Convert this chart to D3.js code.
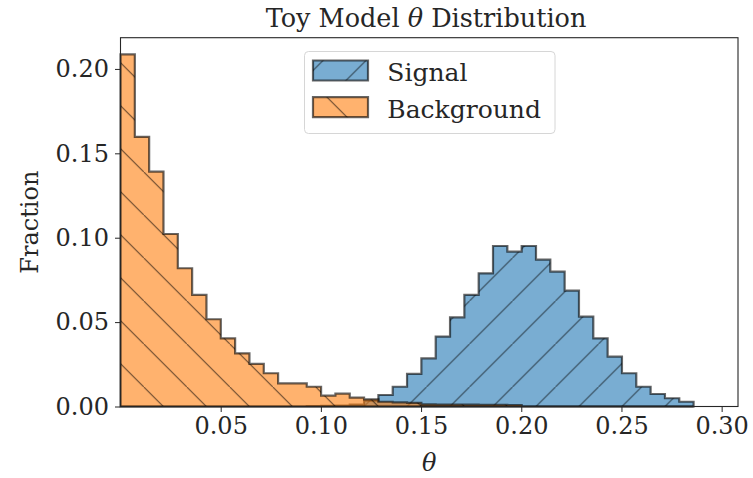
<!DOCTYPE html>
<html>
<head>
<meta charset="utf-8">
<script src="https://cdn.jsdelivr.net/npm/d3@7"></script>
<style>
  body { margin: 0; background: #fff; }
  text { font-family: "DejaVu Serif", serif; fill: #262626; }
</style>
</head>
<body>
<div id="chart"></div>
<script>
var width = 753;
var height = 478;

// histogram: 40 shared bins over theta range
var thetaMin = 0.0;
var thetaMax = 0.286;
var binCount = 40;

var signalFraction = [
  0, 0, 0, 0, 0, 0, 0, 0, 0, 0,
  0, 0, 0, 0.0002, 0.0004, 0.0006, 0.0012, 0.0035, 0.0068, 0.0117,
  0.0193, 0.0285, 0.0414, 0.0528, 0.0661, 0.0789, 0.0951, 0.0917, 0.0951, 0.0870,
  0.0799, 0.0686, 0.0532, 0.0404, 0.0295, 0.0197, 0.0117, 0.0074, 0.0049, 0.0028
];
var backgroundFraction = [
  0.2086, 0.1598, 0.1391, 0.1022, 0.0819, 0.0661, 0.0517, 0.0404, 0.0315, 0.0252,
  0.0197, 0.0137, 0.0137, 0.0117, 0.0064, 0.0076, 0.0053, 0.0042, 0.0028, 0.0024,
  0.0022, 0.0013, 0.0012, 0.0012, 0.0011, 0.0010, 0.0010, 0.0009, 0, 0,
  0, 0, 0, 0, 0, 0, 0, 0, 0, 0
];

var seriesNames = ['Signal', 'Background'];
var xTicks = [0.05, 0.10, 0.15, 0.20, 0.25, 0.30];
var yTicks = [0.00, 0.05, 0.10, 0.15, 0.20];

var binWidth = (thetaMax - thetaMin) / binCount;
var edges = d3.range(binCount + 1).map(function(i) { return thetaMin + i * binWidth; });

var margin = { left: 120.5, right: 15, top: 37.7, bottom: 71.5 };

var x = d3.scaleLinear()
  .domain([0, 0.30816])
  .range([margin.left, width - margin.right]);

var y = d3.scaleLinear()
  .domain([0, 0.2185])
  .range([height - margin.bottom, margin.top]);

var svg = d3.select('#chart')
  .append('svg')
  .attr('width', width)
  .attr('height', height);

var defs = svg.append('defs');

// hatch patterns, '/' for signal and '\' for background
var hatch = 43;
var pSig = defs.append('pattern')
  .attr('id', 'hatchSignal')
  .attr('patternUnits', 'userSpaceOnUse')
  .attr('width', hatch).attr('height', hatch)
  .attr('x', 39.5).attr('y', 0);
pSig.append('path')
  .attr('d', 'M-5,' + (hatch + 5) + 'L' + (hatch + 5) + ',-5')
  .attr('stroke', '#000').attr('stroke-opacity', 0.6).attr('stroke-width', 1.1);

var pBkg = defs.append('pattern')
  .attr('id', 'hatchBackground')
  .attr('patternUnits', 'userSpaceOnUse')
  .attr('width', hatch).attr('height', hatch)
  .attr('x', 14.8).attr('y', 0);
pBkg.append('path')
  .attr('d', 'M-5,-5L' + (hatch + 5) + ',' + (hatch + 5))
  .attr('stroke', '#000').attr('stroke-opacity', 0.6).attr('stroke-width', 1.1);

var colors = ['#1f77b4', '#ff7f0e'];
var hatches = ['url(#hatchSignal)', 'url(#hatchBackground)'];

function stepPoints(values) {
  var pts = [[edges[0], 0]];
  values.forEach(function(v, i) {
    pts.push([edges[i], v]);
    pts.push([edges[i + 1], v]);
  });
  pts.push([edges[edges.length - 1], 0]);
  return pts;
}

var line = d3.line()
  .x(function(d) { return x(d[0]); })
  .y(function(d) { return y(d[1]); });

var plot = svg.append('g');

[signalFraction, backgroundFraction].forEach(function(values, k) {
  var d = line(stepPoints(values)) + 'Z';
  plot.append('path')
    .attr('d', d)
    .attr('fill', colors[k])
    .attr('fill-opacity', 0.6);
  plot.append('path')
    .attr('d', d)
    .attr('fill', hatches[k]);
  plot.append('path')
    .attr('d', d)
    .attr('fill', 'none')
    .attr('stroke', '#000')
    .attr('stroke-opacity', 0.6)
    .attr('stroke-width', 2.2)
    .attr('stroke-linejoin', 'miter');
});

// axes
var xAxis = svg.append('g')
  .attr('transform', 'translate(0,' + (height - margin.bottom) + ')')
  .call(d3.axisBottom(x).tickValues(xTicks).tickFormat(d3.format('.2f')).tickSizeOuter(0).tickSize(5.5).tickPadding(5));
var yAxis = svg.append('g')
  .attr('transform', 'translate(' + margin.left + ',0)')
  .call(d3.axisLeft(y).tickValues(yTicks).tickFormat(d3.format('.2f')).tickSizeOuter(0).tickSize(5.5).tickPadding(6));

[xAxis, yAxis].forEach(function(a) {
  a.select('.domain').remove();
  a.selectAll('line').attr('stroke', '#262626').attr('stroke-width', 1);
  a.selectAll('text')
    .attr('font-family', '"DejaVu Serif", serif')
    .attr('font-size', 24)
    .attr('fill', '#262626');
});

// frame
svg.append('rect')
  .attr('x', margin.left)
  .attr('y', margin.top)
  .attr('width', width - margin.right - margin.left)
  .attr('height', height - margin.bottom - margin.top)
  .attr('fill', 'none')
  .attr('stroke', '#262626')
  .attr('stroke-width', 1.1);

// title and labels
var title = svg.append('text')
  .attr('x', 426)
  .attr('y', 26.7)
  .attr('text-anchor', 'middle')
  .attr('font-size', 25.5);
title.append('tspan').text('Toy Model ');
title.append('tspan').attr('font-style', 'italic').text('θ');
title.append('tspan').text(' Distribution');

svg.append('text')
  .attr('x', (margin.left + width - margin.right) / 2)
  .attr('y', 471)
  .attr('text-anchor', 'middle')
  .attr('font-size', 24)
  .attr('font-style', 'italic')
  .text('θ');

svg.append('text')
  .attr('transform', 'translate(38,' + ((margin.top + height - margin.bottom) / 2) + ') rotate(-90)')
  .attr('text-anchor', 'middle')
  .attr('font-size', 24)
  .text('Fraction');

// legend
var legend = svg.append('g');
legend.append('rect')
  .attr('x', 304.5).attr('y', 51.5)
  .attr('width', 250.5).attr('height', 82)
  .attr('rx', 4)
  .attr('fill', '#fff').attr('fill-opacity', 0.8)
  .attr('stroke', '#d6d6d6');

seriesNames.forEach(function(name, k) {
  var top = 60.5 + k * 36.7;
  var swatch = 'M313,' + top + 'h55v20h-55Z';
  legend.append('path').attr('d', swatch).attr('fill', colors[k]).attr('fill-opacity', 0.6);
  legend.append('path').attr('d', swatch).attr('fill', hatches[k]);
  legend.append('path').attr('d', swatch).attr('fill', 'none')
    .attr('stroke', '#000').attr('stroke-opacity', 0.6).attr('stroke-width', 2.2);
  legend.append('text')
    .attr('x', 387.3)
    .attr('y', top + 20.5)
    .attr('font-size', 25)
    .text(name);
});
</script>
</body>
</html>
